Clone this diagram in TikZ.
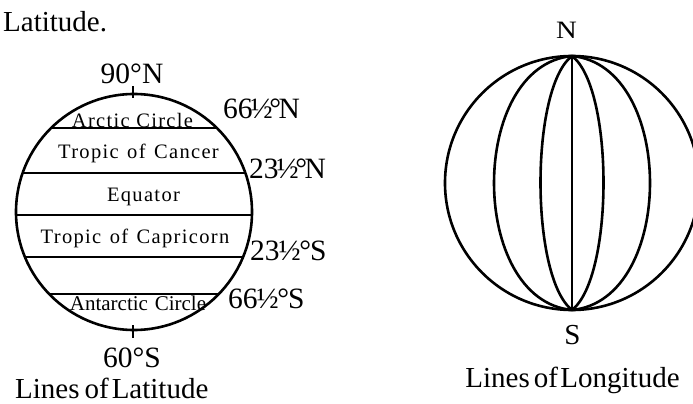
\documentclass[tikz,border=0pt]{standalone}
\usepackage{fontspec}
\setmainfont{Liberation Serif}
\usepackage{graphicx}
\newcommand\myNlab[2]{#1\kern-2pt½\kern-3.5pt°\kern-2.5pt#2}
\newcommand\mySlab[2]{#1\kern-1pt½\kern-1.5pt°\kern-1pt#2}
\begin{document}
\begin{tikzpicture}[x=1pt,y=-1pt,
  globe/.style={line width=2.6pt},
  tick/.style={line width=2.2pt},
  big/.style={font=\fontsize{29.5}{32}\selectfont, inner sep=0pt},
  ttl/.style={font=\fontsize{29}{32}\selectfont, inner sep=0pt},
  small/.style={font=\fontsize{20.5}{24}\selectfont\addfontfeature{LetterSpace=6.5}, inner sep=0pt},
  smallplain/.style={font=\fontsize{21}{24}\selectfont, inner sep=0pt}]
\useasboundingbox (0,0) rectangle (693,404);
\fill[white] (0,0) rectangle (693,404);
% ---- left globe: latitude
\coordinate (LC) at (134,212);
\draw[globe] (LC) circle[radius=118];
\begin{scope}
  \clip (LC) circle[radius=118];
  \foreach \yy in {128,173,215,257,294} \draw[globe] (0,\yy) -- (300,\yy);
\end{scope}
\coordinate (tn1) at (133,86); \coordinate (tn2) at (133,98);
\coordinate (ts1) at (133,325); \coordinate (ts2) at (133,338);
\draw[tick] (tn1) -- (tn2);
\draw[tick] (ts1) -- (ts2);
\node[ttl, anchor=base west] (head) at (3,32) {Latitude.};
\node[big, anchor=base] (n90) at (132,83) {90°N};
\node[big, anchor=base] (s60) at (132,367) {60°S};
\node[big, anchor=base west] (n66) at (223,118) {\myNlab{66}{N}};
\node[big, anchor=base west] (n23) at (249,178) {\myNlab{23}{N}};
\node[big, anchor=base west] (s23) at (250,260) {\mySlab{23}{S}};
\node[big, anchor=base west] (s66) at (228,308) {\mySlab{66}{S}};
\node[small, anchor=base] (arc) at (132.5,127) {Arctic Circle};
\node[small, anchor=base] (can) at (138.5,158) {Tropic\hspace{2pt} of\hspace{2pt} Cancer};
\node[small, anchor=base] (equ) at (143.5,201) {Equator};
\node[small, anchor=base] (cap) at (135,243) {Tropic\hspace{2pt} of\hspace{2pt} Capricorn};
\node[smallplain, anchor=base] (ant) at (138,310.5) {Antarctic\hspace{1.5pt} Circle};
\node[ttl, anchor=base west] (latcap) at (15,398.5) {Lines\hspace{5pt}of\hspace{3pt}Latitude};
% ---- right globe: longitude
\coordinate (RC) at (572,183);
\coordinate (PN) at (572,56);
\coordinate (PS) at (572,310);
\draw[globe] (RC) circle[radius=127];
\draw[globe] (PN) .. controls (468,66) and (468,300) .. (PS);
\draw[globe] (PN) .. controls (676,66) and (676,300) .. (PS);
\draw[globe] (PN) .. controls (530,88) and (530,277) .. (PS);
\draw[globe] (PN) .. controls (614,88) and (614,277) .. (PS);
\draw[globe] (PN) -- (PS);
\node[inner sep=0pt, font=\fontsize{25}{28}\selectfont, anchor=base] (nN) at (566.5,39) {\scalebox{1.15}[1]{N}};
\node[inner sep=0pt, font=\fontsize{29}{32}\selectfont, anchor=base] (sS) at (572.5,344) {S};
\node[ttl, anchor=base] (loncap) at (572.5,387) {Lines\hspace{4pt}of\hspace{2.5pt}Longitude};
\end{tikzpicture}
\end{document}
